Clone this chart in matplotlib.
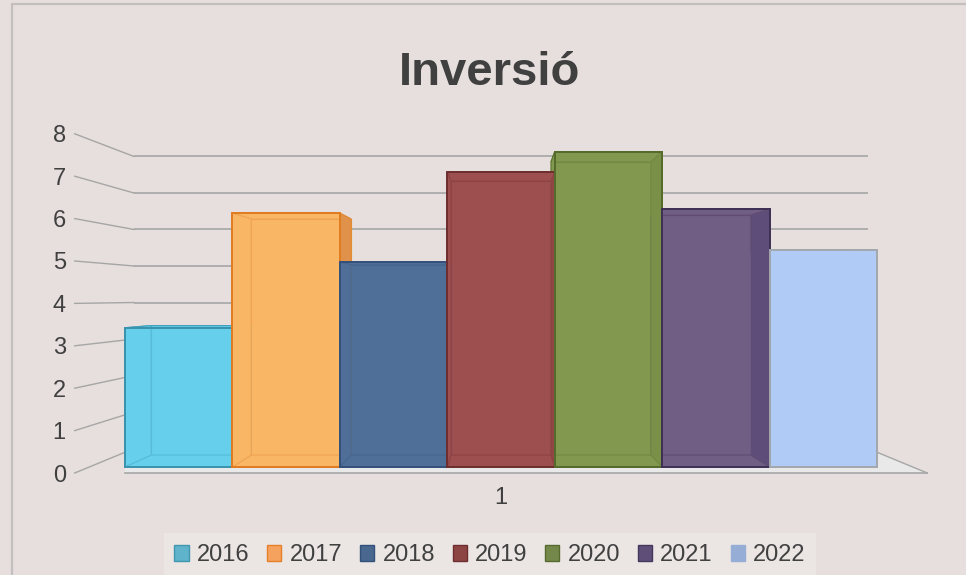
import numpy as np
import matplotlib.pyplot as plt
from matplotlib.patches import Polygon, Patch, Rectangle
from matplotlib.transforms import Affine2D
from matplotlib.colors import to_rgba

plt.rcParams['font.family'] = ['Liberation Sans', 'DejaVu Sans']

# DATA
years = ['2016', '2017', '2018', '2019', '2020', '2021', '2022']
values = [3.4, 6.2, 5.0, 7.2, 7.7, 6.3, 5.3]
y_ticks = [0, 1, 2, 3, 4, 5, 6, 7, 8]
category = '1'
title = 'Inversió'

# COLOURS
bg = '#e6dfdd'
grid = '#a6a6a6'
txt = '#404040'
face = ['#66cfec', '#f9b766', '#4f6f98', '#9c4f4e', '#82984f', '#715e84', '#b0cbf5']
side = ['#4fb3cf', '#e0914a', '#3f5d85', '#7d3a3a', '#6f8540', '#46366a', '#b0cbf5']
edge = ['#3a93ad', '#e07c22', '#34507a', '#6e2e2e', '#556b2c', '#3e2f55', '#a3a7ad']
inner = ['#3f9fba', '#e48a36', '#3a5a84', '#7a3434', '#5d7432', '#45355e', '#b0cbf5']
legend_face = ['#5fb3cb', '#f5a25e', '#4a6790', '#8d4544', '#74884a', '#5f4f78', '#96add6']
legend_edge = ['#3f97b0', '#e67f2a', '#33507a', '#6e2e2e', '#566a30', '#45365e', '#96add6']

# GEOMETRY OF THE FAKE 3D VIEW (pixels of the 966x575 picture)
W, H = 966, 575
vp_px = (501, 297)        # vanishing point
floor_px = 473            # front edge of the floor (value 0)
px_x = 111.3              # pixels per category at the front plane
px_v = 42.4               # pixels per value unit at the front plane
s_front, s_back, s_wall = 0.966, 0.898, 0.861
floor_half = 3.83

VX = (len(years) - 1) / 2
VY = (floor_px - vp_px[1]) / px_v

fig = plt.figure(figsize=(W / 100, H / 100), dpi=100, facecolor=bg)
ax = fig.add_axes([0, 0, 1, 1])
ax.set_xlim(VX - vp_px[0] / px_x, VX + (W - vp_px[0]) / px_x)
ax.set_ylim(-(H - floor_px) / px_v, floor_px / px_v)
ax.set_autoscale_on(False)
ax.axis('off')


def plane(s):
    return Affine2D().translate(-VX, -VY).scale(s).translate(VX, VY) + ax.transData


def proj(x, v, s):
    return (VX + (x - VX) * s, VY + (v - VY) * s)


# floor (its left part is hidden behind the first bar)
fl, fr = VX - floor_half, VX + floor_half
xb = proj(-0.5, 0, s_front)[0]
wall_y = proj(fr, 0, s_wall)[1]
ax.add_patch(Polygon([(xb, 0), (fr, 0), proj(fr, 0, s_wall), (xb, wall_y)],
                     closed=True, fc='#e9e9e9', ec='none', zorder=0.5))
ax.plot([xb, fr], [0, 0], color=grid, lw=1.2, zorder=0.6)
p0, p1 = proj(fr, 0, 1), proj(fr, 0, s_wall)
ax.plot([p0[0], p1[0]], [p0[1], p1[1]], color=grid, lw=1.0, zorder=0.6)

# back wall gridlines + lines to the labels
ax.hlines(y_ticks[1:], fl, fr, transform=plane(s_wall), colors=grid, lw=1.2, zorder=1)
for t in y_ticks:
    p0, p1 = proj(fl, t, 1), proj(fl, t, s_wall)
    ax.plot([p0[0], p1[0]], [p0[1], p1[1]], color=grid, lw=1.0, zorder=1)
    ax.text(fl - 0.08, t - 8.5 / px_v, str(t), ha='right', va='baseline',
            fontsize=17, color=txt)

ax.text(VX, -31 / px_v, category, ha='center', va='baseline', fontsize=17, color=txt)

# BARS
x = np.arange(len(years))
ax.bar(x, values, width=1, transform=plane(s_back), color=face,
       edgecolor=inner, lw=0.8, zorder=2)

# painter order: outer bars first, the bar at the vanishing point last
order = sorted(range(len(values)), key=lambda i: -abs(i - VX))
for k, i in enumerate(order):
    v = values[i]
    x0, x1 = i - 0.5, i + 0.5
    left = [proj(x0, 0, s_front), proj(x0, v, s_front), proj(x0, v, s_back), proj(x0, 0, s_back)]
    right = [proj(x1, 0, s_front), proj(x1, v, s_front), proj(x1, v, s_back), proj(x1, 0, s_back)]
    top = [proj(x0, v, s_front), proj(x1, v, s_front), proj(x1, v, s_back), proj(x0, v, s_back)]
    bottom = [proj(x0, 0, s_front), proj(x1, 0, s_front), proj(x1, 0, s_back), proj(x0, 0, s_back)]
    for pts, c in [(bottom, face[i]), (top, face[i]), (left, face[i]), (right, side[i])]:
        ax.add_patch(Polygon(pts, closed=True, fc=c, ec=inner[i], lw=0.8, zorder=3 + k * 0.01))

ax.bar(x, values, width=1, transform=plane(s_front),
       color=[to_rgba(c, 0.6) for c in face], edgecolor=edge, lw=1.4, zorder=4)

# title
fig.text(490 / W, 1 - 85 / H, title, ha='center', va='baseline', fontsize=34,
         fontweight='bold', color=txt)

# legend
handles = [Patch(facecolor=legend_face[i], edgecolor=legend_edge[i], lw=1.0) for i in range(len(years))]
leg = fig.legend(handles, years, loc='center', bbox_to_anchor=(490 / W, 1 - 555 / H), ncol=7,
                 fontsize=17, handlelength=0.6, handleheight=0.65, handletextpad=0.35,
                 columnspacing=0.75, borderpad=0.45, fancybox=False, framealpha=1,
                 facecolor='#ebe6e4', edgecolor='none')
for t in leg.get_texts():
    t.set_color(txt)

# chart border
fig.add_artist(Rectangle((12 / W, -0.1), 1.2, 1.1 - 4 / H, transform=fig.transFigure,
                         fill=False, ec='#c3bfbe', lw=1.6))

fig.savefig('out.png', dpi=100, facecolor=bg)
